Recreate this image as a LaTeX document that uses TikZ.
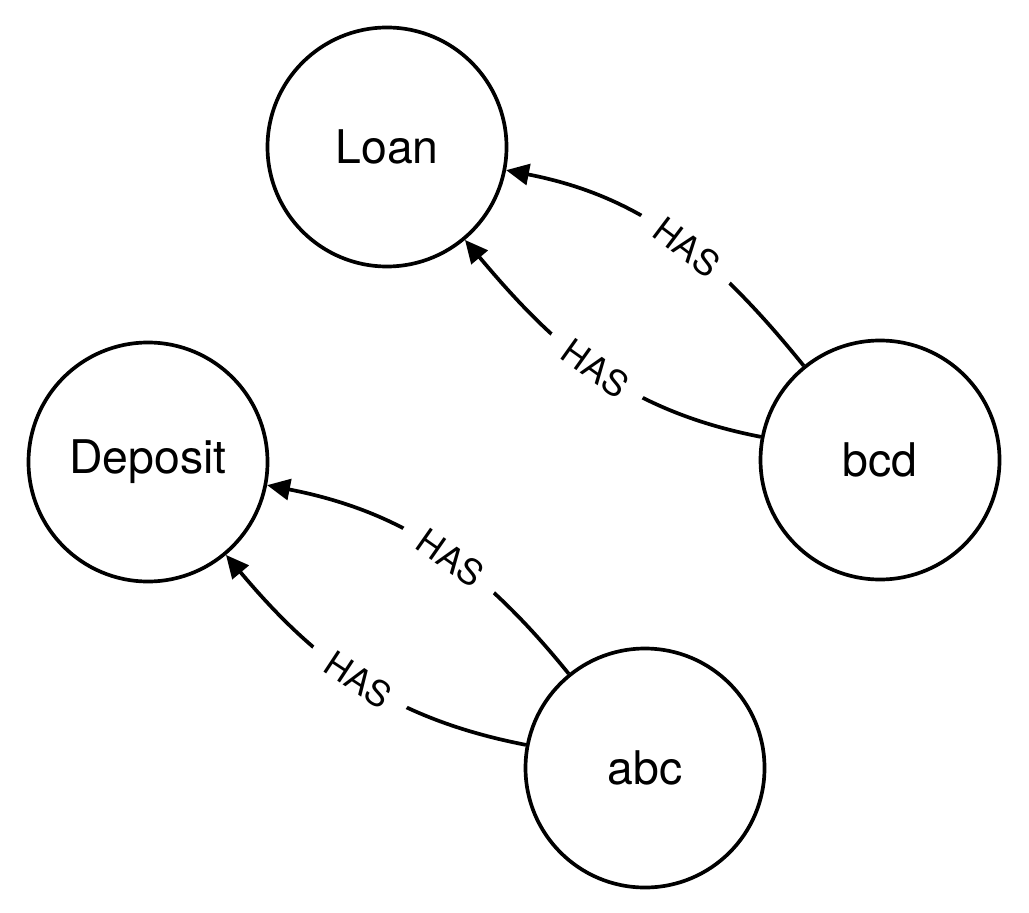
\documentclass[tikz,border=0pt]{standalone}
\usepackage{fontspec}
\setmainfont{TeX Gyre Heros}
\usetikzlibrary{arrows.meta}
\tikzset{
  entity/.style={draw, circle, line width=1.05pt, minimum size=2.39cm, inner sep=0pt, font=\fontsize{13.2}{15}\selectfont},
  rel/.style={line width=1.05pt, -{Triangle[length=6.5pt,width=6pt]}},
  haslabel/.style={fill=white, sloped, inner xsep=5.5pt, inner ysep=1pt, font=\fontsize{10}{11}\selectfont}
}
\begin{document}
\begin{tikzpicture}
  \useasboundingbox (0,0) rectangle (10.29,9.12);
  \node[entity] (loan)    at (3.87,7.65) {Loan};
  \node[entity] (deposit) at (1.48,4.50) {Deposit};
  \node[entity] (bcd)     at (8.80,4.52) {bcd};
  \node[entity] (abc)     at (6.45,1.44) {abc};
  % bcd has two loans
  \draw[rel] (bcd) to[out=129,in=-11] node[haslabel,pos=.45] {HAS} (loan);
  \draw[rel] (bcd) to[out=169,in=-50] node[haslabel,pos=.5] {HAS} (loan);
  % abc has two deposits
  \draw[rel] (abc) to[out=129,in=-11] node[haslabel,pos=.45] {HAS} (deposit);
  \draw[rel] (abc) to[out=169,in=-50] node[haslabel,pos=.5] {HAS} (deposit);
\end{tikzpicture}
\end{document}
